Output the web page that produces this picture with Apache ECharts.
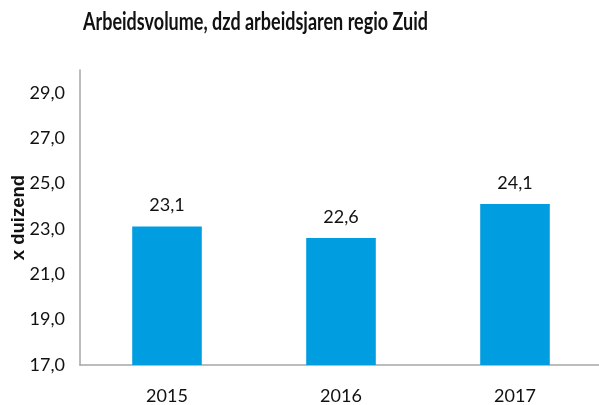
<!DOCTYPE html>
<html>
<head>
<meta charset="utf-8">
<script src="https://cdn.jsdelivr.net/npm/echarts@6/dist/echarts.min.js"></script>
<style>
  html, body { margin: 0; padding: 0; background: #fff; }
  #chart { width: 599px; height: 405px; }
</style>
</head>
<body>
<div id="chart"></div>
<script>
const years = ["2015", "2016", "2017"];
const volume = [23.1, 22.6, 24.1];
const yTicks = [17, 19, 21, 23, 25, 27, 29];

const font = "Lato, sans-serif";
const fmt = (v) => v.toFixed(1).replace(".", ",");

const myCharts = echarts.init(document.getElementById("chart"));
myCharts.setOption({
  animation: false,
  // title drawn as graphic text so it can be squeezed like the original narrow font
  graphic: [
    {
      type: "text",
      x: 83,
      y: 9,
      scaleX: 0.72,
      style: {
        text: "Arbeidsvolume, dzd arbeidsjaren regio Zuid",
        font: "bold 25px Lato, sans-serif",
        fill: "#111",
      },
    },
  ],
  grid: { left: 80, right: -3, top: 70, bottom: 40, outerBoundsMode: "none", containLabel: false },
  xAxis: {
    type: "category",
    data: years,
    axisTick: { show: false },
    axisLine: { lineStyle: { color: "#a6a6a6", width: 1.5 } },
    axisLabel: { margin: 22, color: "#111", fontFamily: font, fontSize: 18 },
  },
  yAxis: {
    type: "value",
    min: 17,
    max: 30,
    name: "x duizend",
    nameLocation: "middle",
    nameGap: 52,
    nameRotate: 90,
    nameMoveOverlap: false,
    nameTextStyle: { fontFamily: "'Liberation Sans', Arial, sans-serif", fontSize: 18.5, fontWeight: "bold", color: "#111" },
    axisLine: { show: true, lineStyle: { color: "#a6a6a6", width: 1.5 } },
    axisTick: { show: false },
    splitLine: { show: false },
    axisLabel: {
      customValues: yTicks,
      margin: 15,
      color: "#111",
      fontFamily: font,
      fontSize: 18,
      formatter: (v) => fmt(v),
    },
  },
  series: [
    {
      type: "bar",
      data: volume,
      barWidth: "40%",
      itemStyle: { color: "#009ee0" },
      label: {
        show: true,
        position: "top",
        distance: 12,
        color: "#111",
        fontFamily: font,
        fontSize: 18,
        formatter: (p) => fmt(p.value),
      },
    },
  ],
});
</script>
</body>
</html>
